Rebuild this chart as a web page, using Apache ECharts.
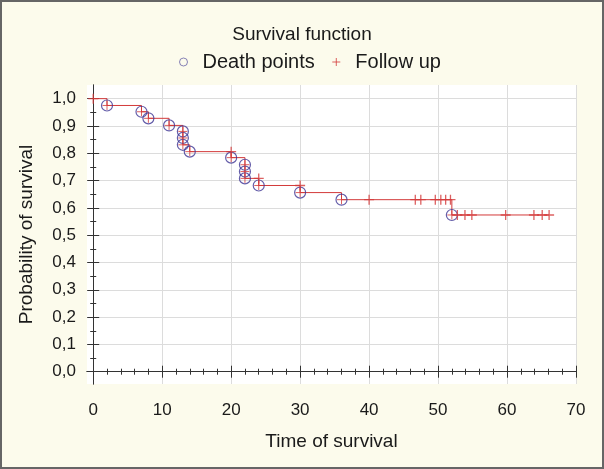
<!DOCTYPE html>
<html>
<head>
<meta charset="utf-8">
<script src="https://cdn.jsdelivr.net/npm/echarts@6/dist/echarts.min.js"></script>
<style>
html,body{margin:0;padding:0;background:#fcfbec;}
#wrap{position:relative;width:604px;height:469px;}
#chart{position:absolute;left:0;top:0;width:604px;height:469px;}
#frame{position:absolute;left:0;top:0;width:604px;height:469px;box-sizing:border-box;border:2px solid #666;pointer-events:none;}
</style>
</head>
<body>
<div id="wrap"><div id="chart"></div><div id="frame"></div></div>
<script>
// ---- data ----
const deathTimes = [2, 7, 8, 11, 13, 13, 13, 14, 20, 22, 22, 22, 24, 30, 36, 52];
const deathSurv  = [0.975, 0.952, 0.928, 0.902, 0.880, 0.856, 0.831, 0.806, 0.784, 0.758, 0.733, 0.708, 0.682, 0.656, 0.630, 0.574];
const followTimes = [0, 20, 24, 30, 40, 46.7, 47.5, 49.6, 50.4, 51.1, 51.8, 52.8, 53.9, 54.9, 59.8, 63.9, 65.1, 66.1];
const followSurv  = [1.0, 0.806, 0.708, 0.682, 0.630, 0.630, 0.630, 0.630, 0.630, 0.630, 0.630, 0.574, 0.574, 0.574, 0.574, 0.574, 0.574, 0.574];
const xTickLabels = [0, 10, 20, 30, 40, 50, 60, 70];
const yTickLabels = [0.0, 0.1, 0.2, 0.3, 0.4, 0.5, 0.6, 0.7, 0.8, 0.9, 1.0];
const xMinorTicks = [0,2,4,6,8,10,12,14,16,18,20,22,24,26,28,30,32,34,36,38,40,42,44,46,48,50,52,54,56,58,60,62,64,66,68,70];
const yMinorTicks = [0,0.05,0.1,0.15,0.2,0.25,0.3,0.35,0.4,0.45,0.5,0.55,0.6,0.65,0.7,0.75,0.8,0.85,0.9,0.95,1.0];

// ---- build series data ----
const deathData = deathTimes.map((t, i) => [t, deathSurv[i]]);
const followData = followTimes.map((t, i) => [t, followSurv[i]]);
const stepData = [[followTimes[0], followSurv[0]]].concat(deathData)
  .concat([[followTimes[followTimes.length - 1], followSurv[followSurv.length - 1]]]);

const XMIN = -0.9, XMAX = 70, YMIN = -0.045, YMAX = 1.05;
const FONT = 'Liberation Sans, Arial, sans-serif';
const RED = '#d33a3a';
const BLUE = '#3d3494';
const PLUS = 'path://M5,0L5,10M0,5L10,5';
const gridRect = {left: 87, right: 28, top: 85, bottom: 85};

function xAxisBase(gridIndex, position, extra) {
  return Object.assign({
    type: 'value', gridIndex, position, min: XMIN, max: XMAX,
    axisLine: {show: false}, axisLabel: {show: false},
    splitLine: {show: false}, axisTick: {show: false}
  }, extra);
}
function yAxisBase(gridIndex, position, extra) {
  return Object.assign({
    type: 'value', gridIndex, position, min: YMIN, max: YMAX,
    axisLine: {show: false}, axisLabel: {show: false},
    splitLine: {show: false}, axisTick: {show: false}
  }, extra);
}
const tickMajor = (vals) => ({show: true, inside: true, length: 6, customValues: vals, lineStyle: {color: '#333', width: 1}});
const tickMinor = (vals) => ({show: true, inside: true, length: 3, customValues: vals, lineStyle: {color: '#333', width: 1}});
const axisLineStyle = {show: true, lineStyle: {color: '#333', width: 1}};

const chart = echarts.init(document.getElementById('chart'), null, {renderer: 'canvas'});
chart.setOption({
  backgroundColor: '#fcfbec',
  animation: false,
  title: {
    text: 'Survival function', left: 'center', top: 20,
    textStyle: {fontFamily: FONT, fontSize: 19, fontWeight: 'normal', color: '#1a1a1a'}
  },
  legend: {
    top: 47, left: 174, itemGap: 17, itemWidth: 28, itemHeight: 8,
    textStyle: {fontFamily: FONT, fontSize: 20, color: '#1a1a1a'},
    data: [
      {name: 'Death points', icon: 'circle', itemStyle: {color: 'rgba(0,0,0,0)', borderColor: '#6a64a8', borderWidth: 1}},
      {name: 'Follow up', icon: PLUS, itemStyle: {color: 'rgba(0,0,0,0)', borderColor: RED, borderWidth: 1}}
    ]
  },
  grid: [
    Object.assign({show: true, backgroundColor: '#ffffff', borderWidth: 0}, gridRect),
    Object.assign({show: false}, gridRect)
  ],
  xAxis: [
    xAxisBase(0, 'bottom', {
      axisLine: axisLineStyle,
      axisTick: tickMajor(xTickLabels),
      axisLabel: {show: true, customValues: xTickLabels, margin: 18, fontFamily: FONT, fontSize: 17, color: '#1a1a1a'},
      splitLine: {show: true, lineStyle: {color: '#dcdcdc', width: 1}},
      name: 'Time of survival', nameLocation: 'middle', nameGap: 48,
      nameTextStyle: {fontFamily: FONT, fontSize: 19, color: '#1a1a1a'}
    }),
    xAxisBase(0, 'top', {axisLine: axisLineStyle, axisTick: tickMajor(xTickLabels)}),
    xAxisBase(1, 'bottom', {axisTick: tickMinor(xMinorTicks)}),
    xAxisBase(1, 'top', {axisTick: tickMinor(xMinorTicks)})
  ],
  yAxis: [
    yAxisBase(0, 'left', {
      axisLine: axisLineStyle,
      axisTick: tickMajor(yTickLabels),
      axisLabel: {show: true, customValues: yTickLabels, margin: 11, fontFamily: FONT, fontSize: 17, color: '#1a1a1a',
        formatter: v => v.toFixed(1).replace('.', ',')},
      splitLine: {show: true, lineStyle: {color: '#dcdcdc', width: 1}},
      name: 'Probability of survival', nameLocation: 'middle', nameGap: 51,
      nameTextStyle: {fontFamily: FONT, fontSize: 19, color: '#1a1a1a'}
    }),
    yAxisBase(0, 'right', {axisLine: axisLineStyle, axisTick: tickMajor(yTickLabels)}),
    yAxisBase(1, 'left', {axisTick: tickMinor(yMinorTicks)}),
    yAxisBase(1, 'right', {axisTick: tickMinor(yMinorTicks)})
  ],
  series: [
    {
      name: 'Survival', type: 'line', step: 'end', xAxisIndex: 0, yAxisIndex: 0,
      data: stepData, showSymbol: false, symbol: 'none',
      lineStyle: {color: RED, width: 1}, z: 2, silent: true
    },
    {
      name: 'Death points', type: 'scatter', xAxisIndex: 0, yAxisIndex: 0,
      data: deathData, symbol: 'circle', symbolSize: 11,
      itemStyle: {color: 'rgba(0,0,0,0)', borderColor: BLUE, borderWidth: 1.2}, z: 3
    },
    {
      name: 'Death cross', type: 'scatter', xAxisIndex: 0, yAxisIndex: 0,
      data: deathData, symbol: PLUS, symbolSize: 9,
      itemStyle: {color: 'rgba(0,0,0,0)', borderColor: RED, borderWidth: 1}, z: 4
    },
    {
      name: 'Follow up', type: 'scatter', xAxisIndex: 0, yAxisIndex: 0,
      data: followData, symbol: PLUS, symbolSize: 10,
      itemStyle: {color: 'rgba(0,0,0,0)', borderColor: RED, borderWidth: 1.3}, z: 4
    }
  ]
});
</script>
</body>
</html>
